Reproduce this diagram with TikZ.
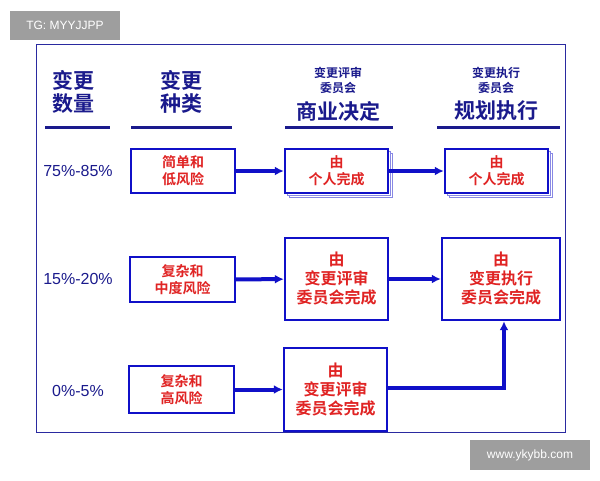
\documentclass[tikz,border=0pt]{standalone}
\usepackage{fontspec}
\setmainfont{Liberation Sans}
\newfontfamily\cjk{Noto Sans CJK SC}[BoldFont={Noto Sans CJK SC Bold}]
\usetikzlibrary{arrows.meta,shadows}
\definecolor{Frame}{HTML}{2A2AA0}
\definecolor{BoxBlue}{HTML}{1010C8}
\definecolor{HeadBlue}{HTML}{1A1A8C}
\definecolor{TxtRed}{HTML}{E02424}
\tikzset{
  stepbox/.style={draw=BoxBlue, line width=2.4pt, fill=white, align=center, inner sep=0pt,
    text=TxtRed, font=\cjk\bfseries\fontsize{14}{17}\selectfont},
  bigbox/.style={stepbox, font=\cjk\bfseries\fontsize{16}{19}\selectfont},
  pagebox/.style={stepbox, double copy shadow={shadow xshift=2pt, shadow yshift=-2pt, draw=BoxBlue!50, line width=0.8pt, fill=white}},
  head/.style={align=center, text=HeadBlue, font=\cjk\bfseries\fontsize{21}{23}\selectfont},
  smallhead/.style={align=center, text=HeadBlue, font=\cjk\bfseries\fontsize{12}{15}\selectfont},
  pct/.style={text=HeadBlue, font=\fontsize{16}{18}\selectfont},
  flow/.style={BoxBlue, line width=4pt, -{Latex[length=9pt,width=9pt]}},
  rule/.style={HeadBlue, line width=3pt},
  tag/.style={fill=black!38, text=white, inner sep=0pt, font=\fontsize{12}{14}\selectfont}
}
\begin{document}
\begin{tikzpicture}[x=1pt, y=-1pt]
 \useasboundingbox (0,0) rectangle (600,480);

 % Tags
 \node[tag, minimum width=110pt, minimum height=29pt] (tg) at (65,25.5) {TG: MYYJJPP};
 \node[tag, minimum width=120pt, minimum height=30pt] (web) at (530,455) {www.ykybb.com};

 % Frame
 \draw[Frame, line width=1pt] (36,44) rectangle (565,432);

 % Headers
 \node[head] (hqty) at (73,92) {变更\\数量};
 \node[head] (htype) at (181,92) {变更\\种类};
 \node[smallhead] (hrev) at (338,80) {变更评审\\委员会};
 \node[head] (hrevb) at (338,111) {商业决定};
 \node[smallhead] (hexe) at (496,80) {变更执行\\委员会};
 \node[head] (hexeb) at (496,111) {规划执行};
 \draw[rule] (45,127) -- (110,127);
 \draw[rule] (131,127) -- (232,127);
 \draw[rule] (285,127) -- (393,127);
 \draw[rule] (437,127) -- (560,127);

 % Percentages
 \node[pct] (p1) at (78,171) {75\%-85\%};
 \node[pct] (p2) at (78,279) {15\%-20\%};
 \node[pct] (p3) at (78,391) {0\%-5\%};

 % Row 1
 \node[stepbox, minimum width=104pt, minimum height=44pt] (a1) at (183,171) {简单和\\低风险};
 \node[pagebox, minimum width=103pt, minimum height=44pt] (b1) at (336.5,171) {由\\个人完成};
 \node[pagebox, minimum width=103pt, minimum height=44pt] (c1) at (496.5,171) {由\\个人完成};

 % Row 2
 \node[stepbox, minimum width=105pt, minimum height=45pt] (a2) at (182.5,279.5) {复杂和\\中度风险};
 \node[bigbox, minimum width=103pt, minimum height=82pt] (b2) at (336.5,279) {由\\变更评审\\委员会完成};
 \node[bigbox, minimum width=118pt, minimum height=82pt] (c2) at (501,279) {由\\变更执行\\委员会完成};

 % Row 3
 \node[stepbox, minimum width=105pt, minimum height=47pt] (a3) at (181.5,389.5) {复杂和\\高风险};
 \node[bigbox, minimum width=103pt, minimum height=83pt] (b3) at (335.5,389.5) {由\\变更评审\\委员会完成};

 % Arrows
 \draw[flow] (a1) -- (b1);
 \draw[flow] (b1) -- (c1);
 \draw[flow] (a2) -- (b2);
 \draw[flow] (b2) -- (c2);
 \draw[flow] (a3) -- (b3);
 \draw[flow] (b3.east |- 0,388) -| (c2.south -| 504,0);

\end{tikzpicture}
\end{document}
